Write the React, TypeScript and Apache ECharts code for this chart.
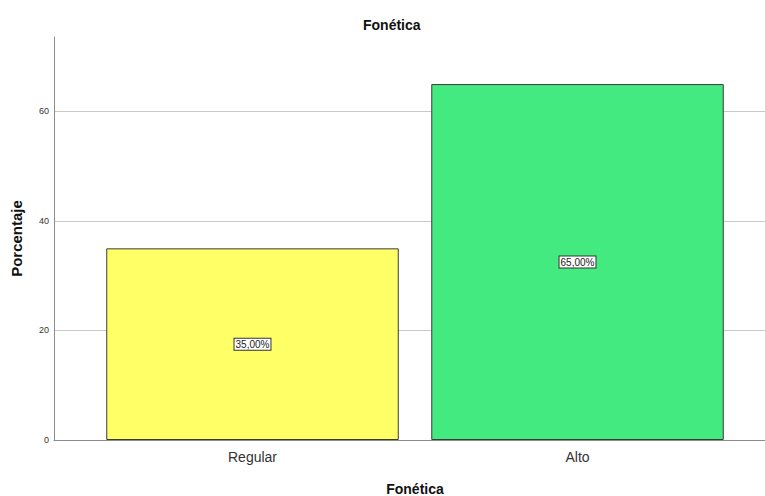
import React, { useEffect, useRef } from "react";
import * as echarts from "echarts";

const categories = ["Regular", "Alto"];
const values = [35, 65];
const barColors = ["#FFFF66", "#42EA7F"];
const yMin = 0;
const yMax = 73.6;
const yInterval = 20;
const chartTitle = "Fonética";
const xName = "Fonética";
const yName = "Porcentaje";

const font = "'Liberation Sans', Arial, sans-serif";

export default function App() {
  const ref = useRef<HTMLDivElement>(null);
  useEffect(() => {
    document.body.style.margin = "0";
    const chart = echarts.init(ref.current!, null, { renderer: "svg" });
    chart.setOption({
      animation: false,
      backgroundColor: "#ffffff",
      textStyle: { fontFamily: font },
      title: {
        text: chartTitle,
        left: 358,
        top: 13,
        textStyle: { fontSize: 14, fontWeight: "bold", color: "#111", fontFamily: font },
      },
      grid: [
        { left: 54, right: 0, top: 37, bottom: 56, outerBoundsMode: "none", containLabel: false },
        { left: 90, right: 25, top: 37, bottom: 56, outerBoundsMode: "none", containLabel: false },
      ],
      xAxis: [
        {
          type: "value",
          gridIndex: 0,
          min: 0,
          max: 1,
          axisLine: { show: true, lineStyle: { color: "#8c8c8c", width: 1 } },
          axisTick: { show: false },
          axisLabel: { show: false },
          splitLine: { show: false },
        },
        {
          type: "category",
          gridIndex: 1,
          data: categories,
          axisLine: { show: false },
          axisTick: { show: false },
          axisLabel: { fontSize: 14, color: "#333", margin: 10, fontFamily: font },
          name: xName,
          nameLocation: "middle",
          nameGap: 42,
          nameTextStyle: { fontSize: 14, fontWeight: "bold", color: "#111", fontFamily: font },
        },
      ],
      yAxis: [
        {
          type: "value",
          gridIndex: 0,
          min: yMin,
          max: yMax,
          interval: yInterval,
          axisLine: { show: true, lineStyle: { color: "#8c8c8c", width: 1 } },
          axisTick: { show: false },
          axisLabel: {
            fontSize: 9,
            color: "#333",
            margin: 5,
            formatter: (v: number) => (v % yInterval === 0 ? String(v) : ""),
          },
          splitLine: {
            show: true,
            lineStyle: { color: ["#c8c8c8", "#c8c8c8", "#c8c8c8", "#c8c8c8", "rgba(0,0,0,0)"], width: 1 },
          },
          name: yName,
          nameLocation: "middle",
          nameGap: 30,
          nameTextStyle: { fontSize: 15, fontWeight: "bold", color: "#111", fontFamily: font },
        },
        {
          type: "value",
          gridIndex: 1,
          min: yMin,
          max: yMax,
          show: false,
          splitLine: { show: false },
        },
      ],
      series: [
        {
          type: "bar",
          xAxisIndex: 1,
          yAxisIndex: 1,
          barCategoryGap: "10%",
          data: values.map((v, i) => ({
            value: v,
            itemStyle: { color: barColors[i], borderColor: "#3a3a3a", borderWidth: 1 },
          })),
          label: {
            show: true,
            position: "inside",
            formatter: (p: any) => p.value.toFixed(2).replace(".", ",") + "%",
            fontSize: 10,
            color: "#222",
            backgroundColor: "#ffffff",
            borderColor: "#333",
            borderWidth: 1,
            padding: [1, 1, 0, 1],
            fontFamily: font,
          },
        },
      ],
    });
    return () => chart.dispose();
  }, []);
  return <div ref={ref} style={{ width: 765, height: 496 }} />;
}
